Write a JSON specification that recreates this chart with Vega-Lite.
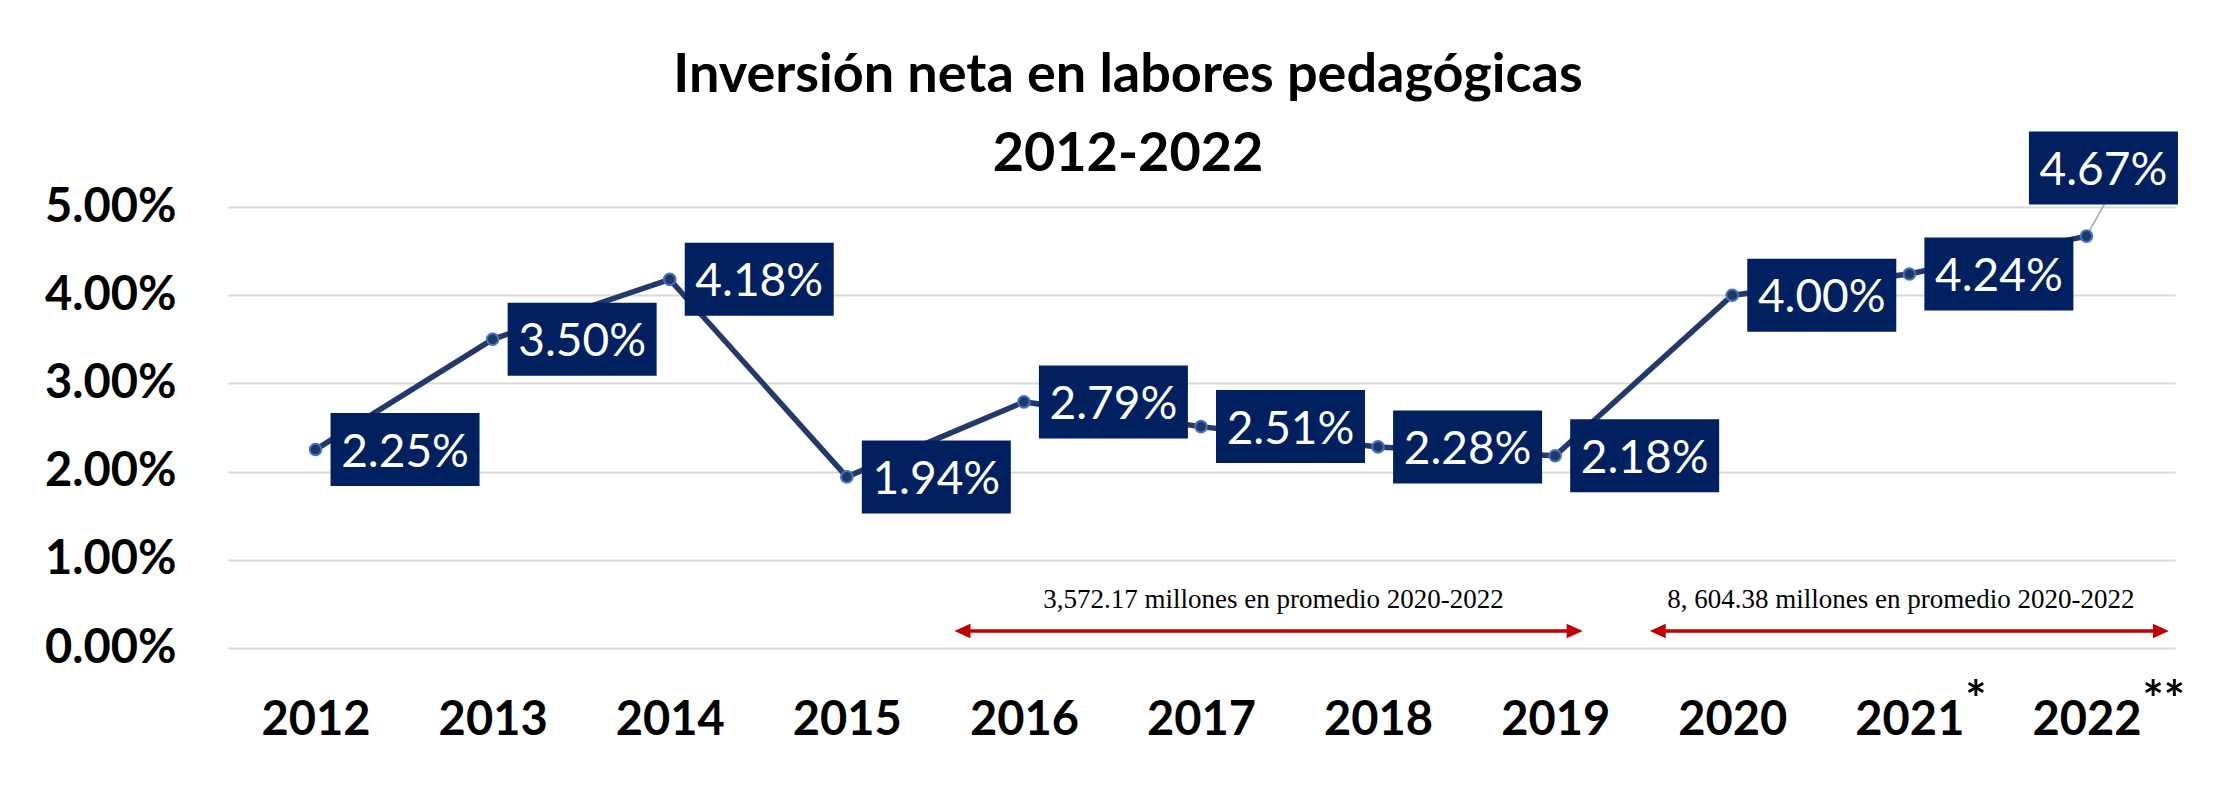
{
  "$schema": "https://vega.github.io/schema/vega-lite/v6.json",
  "autosize": "none",
  "width": 1948,
  "height": 441,
  "padding": {"left": 227, "top": 207, "right": 54, "bottom": 140},
  "background": "white",
  "config": {"view": {"stroke": null}, "font": "Lato"},
  "title": {
    "text": ["Inversión neta en labores pedagógicas", "2012-2022"],
    "font": "Lato",
    "fontSize": 54,
    "fontWeight": "bold",
    "color": "black",
    "lineHeight": 79,
    "anchor": "middle",
    "dx": -73,
    "offset": -50
  },
  "datasets": {
    "main": [
      {"year": "2012", "value": 0.0225},
      {"year": "2013", "value": 0.035},
      {"year": "2014", "value": 0.0418},
      {"year": "2015", "value": 0.0194},
      {"year": "2016", "value": 0.0279},
      {"year": "2017", "value": 0.0251},
      {"year": "2018", "value": 0.0228},
      {"year": "2019", "value": 0.0218},
      {"year": "2020", "value": 0.04},
      {"year": "2021", "value": 0.0424},
      {"year": "2022", "value": 0.0467}
    ]
  },
  "layer": [
    {
      "data": {"name": "main"},
      "mark": {"type": "line", "color": "#22396A", "strokeWidth": 5.5},
      "encoding": {
        "x": {
          "field": "year", "type": "nominal",
          "scale": {"type": "point", "padding": 0.5, "domain": ["2012","2013","2014","2015","2016","2017","2018","2019","2020","2021","2022"]},
          "axis": {"title": null, "labelAngle": 0, "labelFont": "Lato", "labelFontWeight": "bold", "labelFontSize": 47, "labelColor": "black", "ticks": false, "domain": false, "grid": false, "labelPadding": 49}
        },
        "y": {
          "field": "value", "type": "quantitative",
          "scale": {"domain": [0, 0.05], "nice": false},
          "axis": {"title": null, "values": [0, 0.01, 0.02, 0.03, 0.04, 0.05], "format": ".2%", "labelFont": "Lato", "labelFontWeight": "bold", "labelFontSize": 47, "labelColor": "black", "ticks": false, "domain": false, "grid": true, "gridColor": "#D9D9D9", "gridWidth": 2, "labelPadding": 51}
        }
      }
    },
    {
      "data": {"name": "main"},
      "transform": [{"filter": "datum.year == '2022'"}],
      "mark": {"type": "rule", "color": "#A6A6A6", "strokeWidth": 1.5, "x2Offset": 18, "y2Offset": -32},
      "encoding": {
        "x": {"field": "year", "type": "nominal"},
        "y": {"field": "value", "type": "quantitative"},
        "x2": {"field": "year"},
        "y2": {"field": "value"}
      }
    },
    {
      "data": {"name": "main"},
      "mark": {"type": "point", "filled": true, "fill": "#1F3864", "stroke": "#4472C4", "strokeWidth": 2, "size": 135, "opacity": 1},
      "encoding": {
        "x": {"field": "year", "type": "nominal"},
        "y": {"field": "value", "type": "quantitative"}
      }
    },
    {
      "data": {"name": "main"},
      "transform": [{"filter": "datum.year != '2022'"}],
      "mark": {"type": "point", "shape": "M-1,-0.49L1,-0.49L1,0.49L-1,0.49Z", "size": 22201, "filled": true, "color": "#002060", "opacity": 1, "strokeWidth": 0, "xOffset": 89.5},
      "encoding": {
        "x": {"field": "year", "type": "nominal"},
        "y": {"field": "value", "type": "quantitative"}
      }
    },
    {
      "data": {"name": "main"},
      "transform": [{"filter": "datum.year == '2022'"}],
      "mark": {"type": "point", "shape": "M-1,-0.49L1,-0.49L1,0.49L-1,0.49Z", "size": 22201, "filled": true, "color": "#002060", "opacity": 1, "strokeWidth": 0, "xOffset": 17, "yOffset": -68},
      "encoding": {
        "x": {"field": "year", "type": "nominal"},
        "y": {"field": "value", "type": "quantitative"}
      }
    },
    {
      "data": {"name": "main"},
      "transform": [{"filter": "datum.year != '2022'"}],
      "mark": {"type": "text", "color": "white", "font": "Lato", "fontSize": 46, "align": "center", "baseline": "middle", "xOffset": 89.5, "yOffset": 3},
      "encoding": {
        "x": {"field": "year", "type": "nominal"},
        "y": {"field": "value", "type": "quantitative"},
        "text": {"field": "value", "type": "quantitative", "format": ".2%"}
      }
    },
    {
      "data": {"name": "main"},
      "transform": [{"filter": "datum.year == '2022'"}],
      "mark": {"type": "text", "color": "white", "font": "Lato", "fontSize": 46, "align": "center", "baseline": "middle", "xOffset": 17, "yOffset": -65},
      "encoding": {
        "x": {"field": "year", "type": "nominal"},
        "y": {"field": "value", "type": "quantitative"},
        "text": {"field": "value", "type": "quantitative", "format": ".2%"}
      }
    },
    {
      "data": {"values": [{"from": "2016", "to": "2019", "label": "3,572.17 millones en promedio 2020-2022"}]},
      "layer": [
        {
          "mark": {"type": "rule", "color": "#C00000", "strokeWidth": 3.5, "xOffset": -61.5, "x2Offset": 19.5},
          "encoding": {"x": {"field": "from", "type": "nominal"}, "x2": {"field": "to"}, "y": {"datum": 0.00193, "type": "quantitative"}}
        },
        {
          "mark": {"type": "point", "shape": "M-1,0L1,-0.9L1,0.9Z", "size": 256, "filled": true, "color": "#C00000", "opacity": 1, "strokeWidth": 0, "xOffset": -61.5},
          "encoding": {"x": {"field": "from", "type": "nominal"}, "y": {"datum": 0.00193, "type": "quantitative"}}
        },
        {
          "mark": {"type": "point", "shape": "M1,0L-1,-0.9L-1,0.9Z", "size": 256, "filled": true, "color": "#C00000", "opacity": 1, "strokeWidth": 0, "xOffset": 19.5},
          "encoding": {"x": {"field": "to", "type": "nominal"}, "y": {"datum": 0.00193, "type": "quantitative"}}
        },
        {
          "mark": {"type": "text", "font": "Liberation Serif", "fontSize": 27, "color": "black", "align": "center", "baseline": "alphabetic", "xOffset": 249.5},
          "encoding": {"x": {"field": "from", "type": "nominal"}, "y": {"datum": 0.00454, "type": "quantitative"}, "text": {"field": "label"}}
        }
      ]
    },
    {
      "data": {"values": [{"from": "2020", "to": "2022", "label": "8, 604.38 millones en promedio 2020-2022"}]},
      "layer": [
        {
          "mark": {"type": "rule", "color": "#C00000", "strokeWidth": 3.5, "xOffset": -74.5, "x2Offset": 74.5},
          "encoding": {"x": {"field": "from", "type": "nominal"}, "x2": {"field": "to"}, "y": {"datum": 0.00193, "type": "quantitative"}}
        },
        {
          "mark": {"type": "point", "shape": "M-1,0L1,-0.9L1,0.9Z", "size": 256, "filled": true, "color": "#C00000", "opacity": 1, "strokeWidth": 0, "xOffset": -74.5},
          "encoding": {"x": {"field": "from", "type": "nominal"}, "y": {"datum": 0.00193, "type": "quantitative"}}
        },
        {
          "mark": {"type": "point", "shape": "M1,0L-1,-0.9L-1,0.9Z", "size": 256, "filled": true, "color": "#C00000", "opacity": 1, "strokeWidth": 0, "xOffset": 74.5},
          "encoding": {"x": {"field": "to", "type": "nominal"}, "y": {"datum": 0.00193, "type": "quantitative"}}
        },
        {
          "mark": {"type": "text", "font": "Liberation Serif", "fontSize": 27, "color": "black", "align": "center", "baseline": "alphabetic", "xOffset": 168.5},
          "encoding": {"x": {"field": "from", "type": "nominal"}, "y": {"datum": 0.00454, "type": "quantitative"}, "text": {"field": "label"}}
        }
      ]
    },
    {
      "data": {"values": [{"year": "2021", "note": "*"}, {"year": "2022", "note": "**"}]},
      "mark": {"type": "text", "font": "Lato", "fontSize": 50, "fontWeight": "bold", "color": "black", "align": "left", "baseline": "alphabetic", "xOffset": 56, "clip": false},
      "encoding": {
        "x": {"field": "year", "type": "nominal"},
        "y": {"datum": -0.0078, "type": "quantitative"},
        "text": {"field": "note"}
      }
    }
  ]
}
